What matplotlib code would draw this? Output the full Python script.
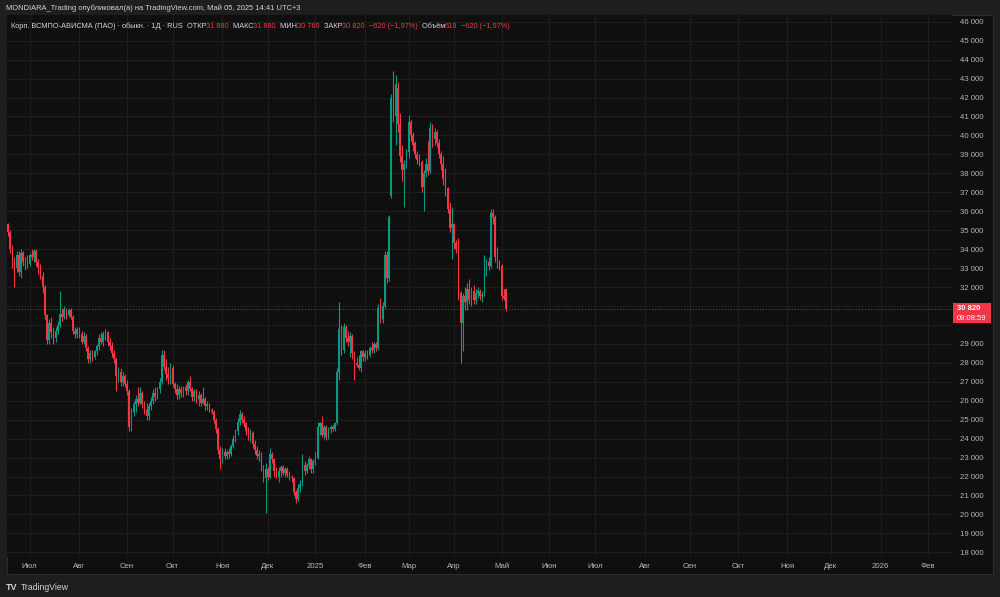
import matplotlib
matplotlib.use("Agg")
import matplotlib.pyplot as plt
from matplotlib.patches import Rectangle
import numpy as np
import pandas as pd

plt.rcParams['font.family'] = ['Liberation Sans', 'DejaVu Sans']

# daily candles, first bar 17 June 2024, last bar 5 May 2025
first_day = '2024-06-17'

opens = [35300, 34900, 34000, 33400, 33000, 33700, 32800, 33800, 33300, 33400,
         33200, 33700, 33600, 33900, 33300, 33000, 32600, 32000, 30500, 29200,
         30100, 29600, 29300, 29700, 30000, 30600, 30400, 30800, 30500, 30800,
         30400, 29700, 29500, 29800, 29500, 29100, 29400, 28800, 28200, 28500,
         28300, 28600, 28900, 29300, 29100, 29500, 29600, 29100, 28900, 28500,
         28200, 27300, 27500, 27000, 27300, 26900, 26500, 24600, 25400, 25800,
         26100, 25900, 26400, 25800, 25500, 25200, 25700, 26000, 26400, 26200,
         26600, 27000, 28400, 27800, 27400, 27200, 27700, 26900, 26600, 26300,
         26600, 26400, 26700, 26500, 27000, 26600, 26200, 26500, 26100, 26300,
         25900, 26100, 25700, 25800, 25500, 25400, 25000, 24500, 23400, 22900,
         23300, 23100, 23300, 23200, 23600, 24000, 24400, 24900, 25300, 25000,
         24800, 24400, 24100, 24300, 23700, 23400, 23100, 23200, 22500, 21900,
         22400, 22000, 23200, 22900, 22300, 22000, 22300, 22500, 22200, 22400,
         22100, 22000, 21900, 21200, 20800, 21400, 21600, 22600, 22300, 22600,
         22900, 22400, 22800, 23000, 24600, 24800, 24200, 24600, 24100, 24500,
         24600, 24500, 24800, 27500, 29800, 28700, 29900, 29300, 29100, 29400,
         28500, 28000, 27900, 27700, 28600, 28300, 28500, 28400, 28800, 28700,
         29000, 28800, 30900, 30300, 31000, 33700, 32500, 36800, 42000, 41000,
         42500, 40600, 38900, 38200, 38500, 39100, 40700, 40000, 39600, 39000,
         38700, 38600, 37300, 38000, 38500, 38100, 40400, 39800, 40200, 39600,
         39000, 38500, 37700, 37200, 36100, 35100, 35300, 34300, 34000, 31700,
         30100, 31500, 31200, 31900, 31300, 31800, 31300, 31700, 31800, 31500,
         31600, 32900, 33300, 33100, 35900, 35700, 33600, 33300, 33100, 31500,
         31880]

highs = [35400, 35000, 34200, 33600, 33900, 33900, 34000, 33900, 33600, 33700,
         33800, 34000, 34000, 34000, 33500, 33200, 32800, 32100, 30600, 30300,
         30400, 29900, 29900, 30200, 31800, 30900, 31000, 30900, 30900, 30900,
         30500, 29900, 29900, 29900, 29700, 29600, 29500, 28900, 28700, 28700,
         28700, 29000, 29500, 29600, 29700, 29800, 29700, 29300, 29100, 28700,
         28300, 27800, 27700, 27500, 27400, 27100, 26600, 25600, 26000, 26300,
         26700, 26700, 26500, 26000, 25900, 25900, 26200, 26600, 26700, 26700,
         27200, 28700, 28700, 28200, 27800, 28000, 27900, 27000, 26900, 26800,
         26800, 26800, 26900, 27100, 27300, 26700, 26600, 26600, 26500, 26400,
         26700, 26200, 26000, 25900, 25600, 25500, 25100, 24600, 23600, 23500,
         23500, 23400, 23500, 23700, 24200, 24500, 25100, 25500, 25400, 25200,
         24900, 24600, 24500, 24400, 23900, 23600, 23400, 23300, 22600, 22700,
         22500, 23500, 23300, 23000, 22500, 22500, 22600, 22600, 22500, 22500,
         22300, 22100, 22000, 21300, 21600, 21800, 23200, 22800, 22700, 23100,
         23000, 22900, 23300, 24900, 24900, 25200, 24700, 24700, 24600, 24700,
         24700, 24900, 27700, 31200, 30000, 30100, 30000, 29700, 29600, 29500,
         28600, 28300, 28400, 28700, 28700, 28700, 28700, 28900, 29100, 29100,
         29100, 31100, 31400, 31200, 33900, 33900, 35800, 42200, 43400, 43200,
         42800, 41200, 39500, 38700, 39300, 41100, 40800, 40200, 39700, 39200,
         39000, 38700, 38200, 38800, 39700, 40700, 40600, 40400, 40300, 39800,
         39200, 38900, 38300, 37300, 36500, 36200, 35400, 34500, 34600, 31800,
         31700, 32000, 32200, 32400, 32000, 32100, 31900, 32000, 31900, 31800,
         33700, 33500, 33600, 36100, 36100, 35800, 34100, 33400, 33200, 31900,
         31880]

lows = [34700, 33800, 33000, 32000, 32800, 32600, 32500, 33100, 32900, 33000,
        33100, 33400, 33300, 33100, 32700, 32400, 31700, 30300, 29000, 29000,
        29300, 29000, 29100, 29500, 29900, 30200, 30300, 30300, 30400, 30300,
        29500, 29300, 29300, 29300, 29000, 29000, 28600, 28000, 28000, 28100,
        28200, 28400, 28700, 29000, 28900, 29200, 28900, 28700, 28300, 28000,
        26500, 27000, 26800, 26800, 26700, 26300, 24400, 24400, 25200, 25400,
        25700, 25800, 25600, 25300, 25000, 25000, 25500, 25800, 26000, 26100,
        26400, 26900, 27600, 27100, 26900, 26900, 26700, 26400, 26100, 26100,
        26200, 26200, 26300, 26300, 26500, 26000, 26000, 25900, 25700, 25700,
        25800, 25500, 25500, 25400, 25300, 24800, 24300, 23200, 22400, 22700,
        22900, 22900, 23000, 23100, 23500, 23800, 24200, 24700, 24800, 24600,
        24200, 23900, 23800, 23500, 23200, 22900, 22800, 22300, 21700, 20100,
        21800, 21900, 22700, 22000, 21900, 21700, 22000, 22100, 22000, 22000,
        21800, 21700, 21000, 20600, 20700, 21200, 21500, 22100, 22200, 22400,
        22200, 22200, 22600, 22900, 24200, 24100, 24000, 23900, 24000, 24300,
        24400, 24400, 24700, 27100, 28400, 28500, 29100, 28900, 28300, 28200,
        27100, 27800, 27600, 27500, 28100, 28100, 28200, 28300, 28500, 28500,
        28600, 28700, 30100, 30100, 30900, 32200, 32300, 36700, 40700, 39500,
        40200, 38600, 37600, 36200, 38300, 38800, 39700, 39200, 38800, 38500,
        38400, 37000, 36000, 37800, 37900, 38000, 39400, 39500, 39400, 38800,
        38200, 37400, 36800, 35900, 34900, 33500, 34000, 33800, 31300, 28000,
        28600, 30800, 30800, 31100, 31000, 31100, 31100, 31400, 31300, 31200,
        31500, 32600, 32900, 33000, 35300, 33300, 33000, 32900, 31300, 31300,
        30760]

closes = [34900, 34000, 33400, 33000, 33700, 32800, 33800, 33300, 33400, 33200,
          33700, 33600, 33900, 33300, 33000, 32600, 32000, 30500, 29200, 30100,
          29600, 29300, 29700, 30000, 30600, 30400, 30800, 30500, 30800, 30400,
          29700, 29500, 29800, 29500, 29100, 29400, 28800, 28200, 28500, 28300,
          28600, 28900, 29300, 29100, 29500, 29600, 29100, 28900, 28500, 28200,
          27300, 27500, 27000, 27300, 26900, 26500, 24600, 25400, 25800, 26100,
          25900, 26400, 25800, 25500, 25200, 25700, 26000, 26400, 26200, 26600,
          27000, 28400, 27800, 27400, 27200, 27700, 26900, 26600, 26300, 26600,
          26400, 26700, 26500, 27000, 26600, 26200, 26500, 26100, 26300, 25900,
          26100, 25700, 25800, 25500, 25400, 25000, 24500, 23400, 22900, 23300,
          23100, 23300, 23200, 23600, 24000, 24400, 24900, 25300, 25000, 24800,
          24400, 24100, 24300, 23700, 23400, 23100, 23200, 22500, 21900, 22400,
          22000, 23200, 22900, 22300, 22000, 22300, 22500, 22200, 22400, 22100,
          22000, 21900, 21200, 20800, 21400, 21600, 22600, 22300, 22600, 22900,
          22400, 22800, 23000, 24600, 24800, 24200, 24600, 24100, 24500, 24600,
          24500, 24800, 27500, 29800, 28700, 29900, 29300, 29100, 29400, 28500,
          28000, 27900, 27700, 28600, 28300, 28500, 28400, 28800, 28700, 29000,
          28800, 30900, 30300, 31000, 33700, 32500, 35700, 42000, 41000, 42700,
          40600, 38900, 38200, 38500, 39100, 40700, 40000, 39500, 39000, 38700,
          38600, 37300, 38000, 38500, 38100, 40400, 39800, 40200, 39600, 39000,
          38500, 37700, 37200, 36100, 35100, 35300, 34300, 34000, 31600, 30100,
          31500, 31200, 31900, 31300, 31800, 31300, 31700, 31800, 31500, 31600,
          32900, 33300, 33100, 35900, 35700, 33600, 33300, 33100, 31500, 31440,
          30820]

last_volume = 618
price_ticks = list(range(18000, 47000, 1000))
month_abbr = {2: 'Фев', 3: 'Мар', 4: 'Апр', 5: 'Май', 6: 'Июн', 7: 'Июл',
              8: 'Авг', 9: 'Сен', 10: 'Окт', 11: 'Ноя', 12: 'Дек'}
header = 'MONDIARA_Trading опубликовал(а) на TradingView.com, Май 05, 2025 14:41 UTC+3'
ticker = 'Корп. ВСМПО-АВИСМА (ПАО) · обыкн. · 1Д · RUS'
countdown = '09:08:59'

BG = '#1e1e1e'
PANEL = '#0f0f0f'
GRID = '#1d1d1d'
TEXT = '#b2b5be'
LABEL = '#d1d4dc'
UP = '#089981'
DOWN = '#f23645'
FS = 5.3

W, H = 1000, 597


def fx(px):
    return px / W


def fy(py):
    return 1 - py / H


def fmt(v):
    return f"{v:,.0f}".replace(",", " ")


dates = pd.bdate_range(first_day, periods=445)
o = np.array(opens)
h = np.array(highs)
l = np.array(lows)
c = np.array(closes)
x = np.arange(len(c))
x_right = 436

fig = plt.figure(figsize=(W / 100, H / 100), dpi=100, facecolor=BG)
fig.add_artist(Rectangle((fx(7), fy(574)), fx(993 - 7), (574 - 15) / H,
                         transform=fig.transFigure, facecolor=PANEL,
                         edgecolor='#2b2b2b', lw=0.8, zorder=-5))

ax = fig.add_axes([fx(7), fy(557), fx(952 - 7), (557 - 15) / H])
ax.set_facecolor(PANEL)

# month ticks at the first bar of each month
tick_pos, tick_lab = [], []
prev = None
for i, d in enumerate(dates):
    key = (d.year, d.month)
    if key != prev and 0 < i < x_right:
        tick_pos.append(i)
        tick_lab.append(str(d.year) if d.month == 1 else month_abbr[d.month])
    prev = key

# candles
up = c >= o
colors = np.where(up, UP, DOWN)
ax.vlines(x, l, h, colors=colors, lw=0.8, zorder=3)
ax.bar(x, np.maximum(np.abs(c - o), 40), bottom=np.minimum(o, c), width=0.75,
       color=colors, lw=0, zorder=4)

ax.axhline(c[-1], color=DOWN, ls=(0, (1, 2)), lw=0.7, alpha=0.8, zorder=2)

# price labels hidden under the last-price badge are left out, as on the site
badge_lo, badge_hi = 29900, 31100
shown = [v if not (badge_lo < v < badge_hi) else None for v in price_ticks]

ax.set_xlim(-0.46, x_right)
ax.set_ylim(17752, 46354)
ax.set_yticks(price_ticks)
ax.set_yticklabels([fmt(v) if v is not None else '' for v in shown])
ax.set_xticks(tick_pos)
ax.set_xticklabels(tick_lab)
ax.yaxis.tick_right()
ax.tick_params(axis='both', length=0, colors=TEXT, labelsize=FS + 0.3)
ax.tick_params(axis='y', pad=6)
ax.tick_params(axis='x', pad=4)
ax.grid(True, color=GRID, lw=0.8)
ax.set_axisbelow(True)
for s in ax.spines.values():
    s.set_visible(False)

# last price badge on the price scale
fig.add_artist(Rectangle((fx(953), fy(323)), fx(38), 20 / H,
                         transform=fig.transFigure, facecolor=DOWN, lw=0, zorder=5))
fig.text(fx(957), fy(308.5), fmt(c[-1]), color='white', fontsize=FS + 0.2,
         weight='bold', va='center', ha='left', zorder=6)
fig.text(fx(957), fy(318), countdown, color='white', fontsize=FS + 0.2,
         va='center', ha='left', zorder=6)

# header
fig.text(fx(6), fy(8), header, color=LABEL, fontsize=FS + 0.1, va='center', ha='left')

# legend row with OHLC values, pieces chained one after another
chg = c[-1] - c[-2]
pct = chg / c[-2] * 100
chg_txt = (f"{chg:.0f} ({pct:.2f}%)").replace('-', '−').replace('.', ',')
pieces = [("  ОТКР", LABEL), (fmt(o[-1]), DOWN),
          ("  МАКС", LABEL), (fmt(h[-1]), DOWN), ("  МИН", LABEL), (fmt(l[-1]), DOWN),
          ("  ЗАКР", LABEL), (fmt(c[-1]), DOWN), ("  " + chg_txt, DOWN),
          ("  Объём", LABEL), (str(last_volume), DOWN), ("  " + chg_txt, DOWN)]
prev_t = fig.text(fx(11), fy(26), ticker, color=LABEL, fontsize=FS,
                  va='center', ha='left')
for s, col in pieces:
    prev_t = ax.annotate(s, xy=(1, 0.5), xycoords=prev_t, va='center', ha='left',
                         color=col, fontsize=FS, annotation_clip=False)

# TradingView logo
fig.text(fx(6), fy(587), 'TV', color=LABEL, fontsize=6.5, weight='heavy',
         va='center', ha='left')
fig.text(fx(21), fy(587), 'TradingView', color=LABEL, fontsize=6.2,
         va='center', ha='left')

fig.savefig('out.png', dpi=100, facecolor=BG)
